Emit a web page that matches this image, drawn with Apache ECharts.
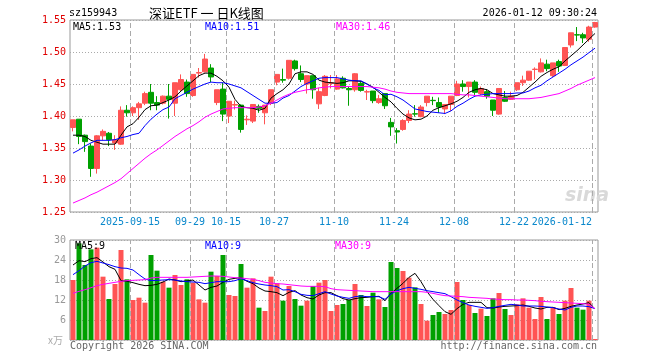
<!DOCTYPE html>
<html><head><meta charset="utf-8">
<script src="https://cdn.jsdelivr.net/npm/echarts@6/dist/echarts.min.js"></script>
<style>html,body{margin:0;padding:0;background:#fff}#c{width:660px;height:360px}</style>
</head><body><div id="c"></div>
<script>
const dates = [
'2025-09-01','2025-09-02','2025-09-03','2025-09-04','2025-09-05','2025-09-08','2025-09-09','2025-09-10','2025-09-11','2025-09-12',
'2025-09-15','2025-09-16','2025-09-17','2025-09-18','2025-09-19','2025-09-22','2025-09-23','2025-09-24','2025-09-25','2025-09-26',
'2025-09-29','2025-09-30','2025-10-09','2025-10-10','2025-10-13','2025-10-14','2025-10-15','2025-10-16','2025-10-17','2025-10-20',
'2025-10-21','2025-10-22','2025-10-23','2025-10-24','2025-10-27','2025-10-28','2025-10-29','2025-10-30','2025-10-31','2025-11-03',
'2025-11-04','2025-11-05','2025-11-06','2025-11-07','2025-11-10','2025-11-11','2025-11-12','2025-11-13','2025-11-14','2025-11-17',
'2025-11-18','2025-11-19','2025-11-20','2025-11-21','2025-11-24','2025-11-25','2025-11-26','2025-11-27','2025-11-28','2025-12-01',
'2025-12-02','2025-12-03','2025-12-04','2025-12-05','2025-12-08','2025-12-09','2025-12-10','2025-12-11','2025-12-12','2025-12-15',
'2025-12-16','2025-12-17','2025-12-18','2025-12-19','2025-12-22','2025-12-23','2025-12-24','2025-12-25','2025-12-26','2025-12-29',
'2025-12-30','2025-12-31','2026-01-05','2026-01-06','2026-01-07','2026-01-08','2026-01-09','2026-01-12'];

const labelDates = ['2025-09-15','2025-09-29','2025-10-15','2025-10-27','2025-11-10','2025-11-24','2025-12-08','2025-12-22','2026-01-12'];
const labelTexts = ['2025-09-15','09-29','10-15','10-27','11-10','11-24','12-08','12-22','2026-01-12'];

const open = [1.382,1.395,1.370,1.353,1.318,1.369,1.373,1.358,1.356,1.409,
1.405,1.413,1.420,1.437,1.421,1.420,1.431,1.420,1.441,1.453,
1.432,1.467,1.469,1.475,1.421,1.442,1.400,1.417,1.417,1.394,
1.392,1.415,1.405,1.420,1.453,1.457,1.459,1.486,1.466,1.450,
1.463,1.419,1.432,1.451,1.442,1.459,1.443,1.441,1.451,1.4375,
1.439,1.421,1.435,1.390,1.377,1.379,1.393,1.4035,1.399,1.421,
1.4245,1.421,1.411,1.418,1.432,1.450,1.446,1.453,1.435,1.438,
1.425,1.403,1.429,1.426,1.441,1.452,1.456,1.4727,1.469,1.481,
1.463,1.485,1.479,1.511,1.527,1.527,1.520,1.539];
const close = [1.394,1.368,1.360,1.318,1.369,1.376,1.363,1.363,1.409,1.405,
1.413,1.419,1.435,1.420,1.417,1.431,1.426,1.452,1.457,1.435,
1.465,1.468,1.489,1.461,1.441,1.403,1.423,1.418,1.379,1.395,
1.418,1.412,1.417,1.441,1.465,1.456,1.487,1.474,1.457,1.463,
1.441,1.438,1.462,1.452,1.458,1.444,1.441,1.466,1.440,1.438,
1.424,1.427,1.416,1.383,1.375,1.393,1.403,1.403,1.414,1.431,
1.424,1.414,1.418,1.431,1.450,1.446,1.453,1.437,1.443,1.431,
1.409,1.443,1.423,1.431,1.452,1.456,1.470,1.4732,1.483,1.474,
1.483,1.478,1.507,1.530,1.5265,1.522,1.539,1.546];
const low = [1.376,1.356,1.344,1.305,1.310,1.362,1.353,1.347,1.355,1.399,
1.400,1.394,1.417,1.409,1.409,1.418,1.396,1.400,1.438,1.430,
1.430,1.460,1.468,1.453,1.417,1.392,1.389,1.410,1.374,1.386,
1.389,1.405,1.387,1.417,1.448,1.452,1.457,1.471,1.453,1.435,
1.427,1.411,1.431,1.443,1.441,1.443,1.416,1.438,1.438,1.425,
1.420,1.419,1.411,1.369,1.357,1.377,1.389,1.399,1.398,1.415,
1.417,1.405,1.403,1.408,1.431,1.438,1.429,1.433,1.433,1.427,
1.400,1.402,1.422,1.425,1.439,1.447,1.455,1.457,1.468,1.470,
1.461,1.469,1.478,1.507,1.517,1.514,1.516,1.538];
const high = [1.394,1.395,1.371,1.357,1.370,1.379,1.375,1.370,1.415,1.417,
1.415,1.422,1.438,1.450,1.431,1.432,1.450,1.452,1.465,1.457,
1.465,1.475,1.497,1.481,1.441,1.452,1.423,1.424,1.418,1.401,
1.418,1.418,1.417,1.441,1.465,1.474,1.487,1.488,1.479,1.463,
1.463,1.444,1.464,1.464,1.464,1.462,1.446,1.467,1.453,1.441,
1.439,1.433,1.435,1.397,1.381,1.395,1.409,1.417,1.417,1.431,
1.430,1.429,1.418,1.431,1.455,1.456,1.453,1.456,1.446,1.442,
1.425,1.443,1.439,1.438,1.452,1.463,1.470,1.476,1.490,1.488,
1.483,1.488,1.507,1.530,1.539,1.530,1.541,1.547];

const ma5 = [1.370,1.370,1.368,1.362,1.359,1.356,1.356,1.356,1.370,1.383,
1.388,1.398,1.410,1.416,1.417,1.421,1.425,1.430,1.439,1.447,
1.455,1.463,1.467,1.467,1.462,1.455,1.445,1.426,1.415,1.413,
1.412,1.409,1.412,1.428,1.435,1.441,1.450,1.466,1.469,1.469,
1.465,1.456,1.453,1.452,1.451,1.452,1.455,1.455,1.454,1.450,
1.445,1.437,1.429,1.422,1.412,1.403,1.397,1.394,1.395,1.400,
1.409,1.413,1.416,1.419,1.423,1.429,1.437,1.441,1.443,1.441,
1.435,1.433,1.431,1.431,1.432,1.437,1.445,1.453,1.462,1.468,
1.473,1.477,1.486,1.494,1.502,1.511,1.520,1.529];
const ma10 = [1.342,1.347,1.353,1.358,1.362,1.362,1.362,1.363,1.366,1.368,
1.371,1.373,1.385,1.395,1.403,1.410,1.414,1.427,1.432,1.437,
1.442,1.446,1.450,1.453,1.452,1.452,1.450,1.447,1.444,1.438,
1.432,1.426,1.420,1.420,1.421,1.428,1.432,1.439,1.446,1.451,
1.455,1.459,1.460,1.460,1.460,1.458,1.456,1.455,1.455,1.450,
1.444,1.440,1.433,1.434,1.430,1.425,1.418,1.411,1.409,1.407,
1.406,1.405,1.404,1.408,1.415,1.420,1.426,1.431,1.433,1.434,
1.435,1.435,1.435,1.435,1.436,1.436,1.439,1.444,1.448,1.455,
1.461,1.467,1.473,1.480,1.486,1.492,1.499,1.506];
const ma30 = [1.264,1.268,1.272,1.277,1.281,1.286,1.291,1.296,1.302,1.310,
1.318,1.326,1.334,1.341,1.347,1.354,1.361,1.368,1.374,1.380,
1.385,1.391,1.398,1.403,1.407,1.411,1.412,1.413,1.413,1.413,
1.413,1.414,1.416,1.420,1.425,1.430,1.434,1.437,1.439,1.441,
1.442,1.444,1.445,1.446,1.446,1.446,1.446,1.446,1.446,1.446,
1.445,1.444,1.442,1.439,1.437,1.436,1.435,1.435,1.435,1.435,
1.435,1.435,1.435,1.435,1.434,1.433,1.433,1.432,1.431,1.430,
1.429,1.428,1.427,1.427,1.427,1.427,1.427,1.428,1.429,1.431,
1.433,1.435,1.439,1.443,1.448,1.452,1.456,1.460];

const volume = [18.0,29.0,22.5,27.2,27.7,19.0,12.3,16.8,27.0,18.2,
12.0,12.7,11.2,25.5,20.8,17.5,15.7,19.5,16.5,18.2,
17.2,12.2,11.2,20.5,19.2,25.5,13.5,13.2,22.8,15.7,
18.5,9.7,8.7,19.0,17.0,11.8,16.2,12.3,10.3,11.8,
16.2,17.2,18.0,8.7,10.5,10.8,12.0,16.8,13.5,10.2,
14.2,12.2,9.9,23.4,21.6,20.7,18.7,15.8,10.8,5.8,
7.5,8.4,7.8,9.0,17.4,12.0,10.5,8.1,9.4,7.2,
12.5,14.1,9.3,7.5,10.7,12.5,9.7,6.3,12.9,6.3,
9.8,7.8,11.8,15.6,9.7,9.1,11.8,0.3];
const vma5 = [22.5,23.8,23.5,24.4,24.7,23.4,22.0,21.2,17.8,17.6,
17.2,16.7,16.3,16.4,16.7,17.4,18.3,18.0,17.5,17.7,
18.0,16.5,15.0,15.8,16.2,17.3,18.2,18.5,18.7,17.6,
16.9,15.6,14.7,14.5,14.2,13.3,14.3,14.8,13.5,12.7,
12.3,13.5,14.2,14.2,13.3,12.4,12.0,12.4,12.7,12.8,
13.0,13.1,11.8,14.0,15.5,17.0,18.8,20.0,17.5,14.5,
12.2,10.3,8.5,7.7,9.4,10.7,11.3,11.3,11.3,9.7,
9.6,9.9,10.1,10.2,10.3,10.5,10.1,9.6,9.3,9.8,
9.8,9.1,9.5,10.1,10.5,10.8,11.2,9.3];
const vma10 = [19.6,20.8,22.2,23.2,23.6,23.1,22.6,22.0,21.6,21.5,
21.0,19.6,18.3,17.8,17.9,18.0,18.1,18.0,17.7,17.5,
17.4,17.3,16.9,17.2,17.5,17.5,17.5,17.8,18.4,17.8,
17.2,16.8,16.5,16.3,16.0,15.0,15.1,14.5,13.7,13.4,
13.3,13.9,14.5,13.8,13.2,12.8,12.5,13.0,13.2,13.0,
13.0,13.0,12.2,13.8,14.8,15.4,15.8,15.5,15.2,14.8,
14.5,14.2,13.9,13.0,12.0,11.2,10.5,10.1,9.8,9.5,
9.7,10.1,10.4,10.7,10.5,10.2,10.2,10.2,10.1,9.9,
9.7,9.3,9.0,9.8,10.2,10.2,10.0,9.4];
const vma30 = [14.0,14.6,15.1,15.7,16.3,16.7,17.0,17.3,17.6,17.8,
17.9,18.0,18.1,18.6,18.8,18.8,18.8,18.8,18.8,18.8,
18.9,19.0,19.1,19.2,19.2,19.1,18.9,18.7,18.6,18.4,
18.2,17.8,17.3,17.1,16.9,16.8,16.6,16.4,16.2,16.1,
16.1,16.1,16.0,15.4,15.1,15.0,14.9,14.8,14.7,14.6,
14.5,14.5,14.5,14.5,14.5,14.5,14.5,14.5,14.5,14.3,
14.0,13.6,13.3,13.2,13.1,13.0,12.8,12.7,12.6,12.5,
12.3,12.2,12.1,12.1,12.0,12.0,11.9,11.8,11.6,11.5,
11.4,11.3,11.2,11.1,11.0,10.9,10.7,9.4];

const UP = '#ff5454', DOWN = '#00a000';
const MONO = '"DejaVu Sans Mono", monospace';
const labelIdx = labelDates.map(d => dates.indexOf(d));
const kData = dates.map((d, i) => [open[i], close[i], low[i], high[i]]);
const volData = volume.map((v, i) => ({value: v, itemStyle: {color: close[i] >= open[i] ? UP : DOWN}}));
const last = a => a[a.length - 1];

const chart = echarts.init(document.getElementById('c'), null, {renderer: 'canvas'});
const lineS = (name, data, color, xi) => ({
  name, type: 'line', data, xAxisIndex: xi, yAxisIndex: xi, showSymbol: false, symbol: 'none',
  lineStyle: {color, width: 1}, silent: true, z: 5
});
const vLines = (xi, yi) => ({
  type: 'line', xAxisIndex: xi, yAxisIndex: yi, data: [], silent: true, z: 1,
  markLine: {symbol: 'none', silent: true, animation: false, label: {show: false},
    lineStyle: {color: '#aaa', type: [5, 3], width: 1},
    data: labelIdx.map(i => ({xAxis: i}))}
});
function txt(x, y, text, color, opt) {
  return {type: 'text', x, y, z: 100, style: Object.assign({text, fill: color, font: '10px ' + MONO, textVerticalAlign: 'middle'}, opt || {})};
}
const catAxis = (g) => ({type: 'category', data: dates, gridIndex: g, boundaryGap: true, position: 'top',
  axisLine: {show: false}, axisTick: {show: false}, axisLabel: {show: false}, splitLine: {show: false}});
const posAxis = (g, showLabel) => ({type: 'value', gridIndex: g, min: 0, max: dates.length, position: 'bottom',
  axisLine: {show: false}, axisTick: {show: false}, splitLine: {show: false},
  axisLabel: {show: showLabel, customValues: labelIdx, color: '#0a88cc', fontFamily: MONO, fontSize: 10, margin: 5,
    showMinLabel: true, showMaxLabel: true, hideOverlap: false,
    formatter: (v) => {
      const k = labelIdx.indexOf(v);
      if (k < 0) return '';
      return k === labelIdx.length - 1 ? labelTexts[k] + ' '.repeat(labelTexts[k].length) : labelTexts[k];
    }}});
chart.setOption({
  animation: false,
  backgroundColor: '#fff',
  grid: [
    {left: 70, top: 20, width: 528, height: 192, show: true, borderColor: '#999', borderWidth: 1, backgroundColor: 'transparent'},
    {left: 70, top: 240, width: 528, height: 100, show: true, borderColor: '#999', borderWidth: 1, backgroundColor: 'transparent'}
  ],
  xAxis: [catAxis(0), catAxis(1), posAxis(0, true), posAxis(1, false)],
  yAxis: [
    {type: 'value', gridIndex: 0, min: 1.25, max: 1.55, interval: 0.05,
      axisLine: {show: false}, axisTick: {show: false},
      axisLabel: {color: '#e00000', fontFamily: MONO, fontSize: 10, margin: 4, formatter: v => v.toFixed(2)},
      splitLine: {show: true, lineStyle: {color: '#aaa', type: [1, 2]}}},
    {type: 'value', gridIndex: 1, min: 0, max: 30, interval: 6,
      axisLine: {show: false}, axisTick: {show: false},
      axisLabel: {color: '#999', fontFamily: MONO, fontSize: 10, margin: 4, formatter: v => v === 0 ? '' : String(v)},
      splitLine: {show: true, lineStyle: {color: '#aaa', type: [1, 2]}}}
  ],
  series: [
    vLines(2, 0),
    vLines(3, 1),
    {type: 'candlestick', data: kData, xAxisIndex: 0, yAxisIndex: 0, barWidth: 5,
      itemStyle: {color: UP, color0: DOWN, borderColor: UP, borderColor0: DOWN, borderWidth: 1}, z: 3},
    lineS('MA5', ma5, '#000000', 0),
    lineS('MA10', ma10, '#0000ff', 0),
    lineS('MA30', ma30, '#ff00ff', 0),
    {type: 'bar', data: volData, xAxisIndex: 1, yAxisIndex: 1, barWidth: 5, z: 3},
    lineS('VMA5', vma5, '#000000', 1),
    lineS('VMA10', vma10, '#0000ff', 1),
    lineS('VMA30', vma30, '#ff00ff', 1)
  ],
  graphic: [
    txt(69, 13, 'sz159943', '#000'),
    {type: 'text', x: 149, y: 13, z: 100, style: {text: '深证ETF 一 日K线图', fill: '#000', font: '13px "Noto Sans CJK SC"', textVerticalAlign: 'middle'}},
    txt(597, 13, '2026-01-12 09:30:24', '#000', {textAlign: 'right'}),
    txt(73, 27, 'MA5:' + last(ma5).toFixed(2), '#000'),
    txt(205, 27, 'MA10:' + last(ma10).toFixed(2), '#0000ff'),
    txt(336, 27, 'MA30:' + last(ma30).toFixed(2), '#ff00ff'),
    txt(75, 246, 'MA5:' + Math.floor(last(vma5)), '#000'),
    txt(205, 246, 'MA10:' + Math.floor(last(vma10)), '#0000ff'),
    txt(335, 246, 'MA30:' + Math.floor(last(vma30)), '#ff00ff'),
    {type: 'text', x: 48, y: 340, z: 100, style: {text: 'x万', fill: '#aaa', font: '10px "Noto Sans CJK SC"', textVerticalAlign: 'middle'}},
    txt(70, 346, 'Copyright 2026 SINA.COM', '#666'),
    txt(597, 346, 'http://finance.sina.com.cn', '#666', {textAlign: 'right'}),
    {type: 'text', x: 565, y: 196, z: 1, style: {text: 'sina', fill: '#d9d9d9', font: 'italic bold 19px "DejaVu Sans"', textVerticalAlign: 'middle'}}
  ]
});
</script></body></html>
